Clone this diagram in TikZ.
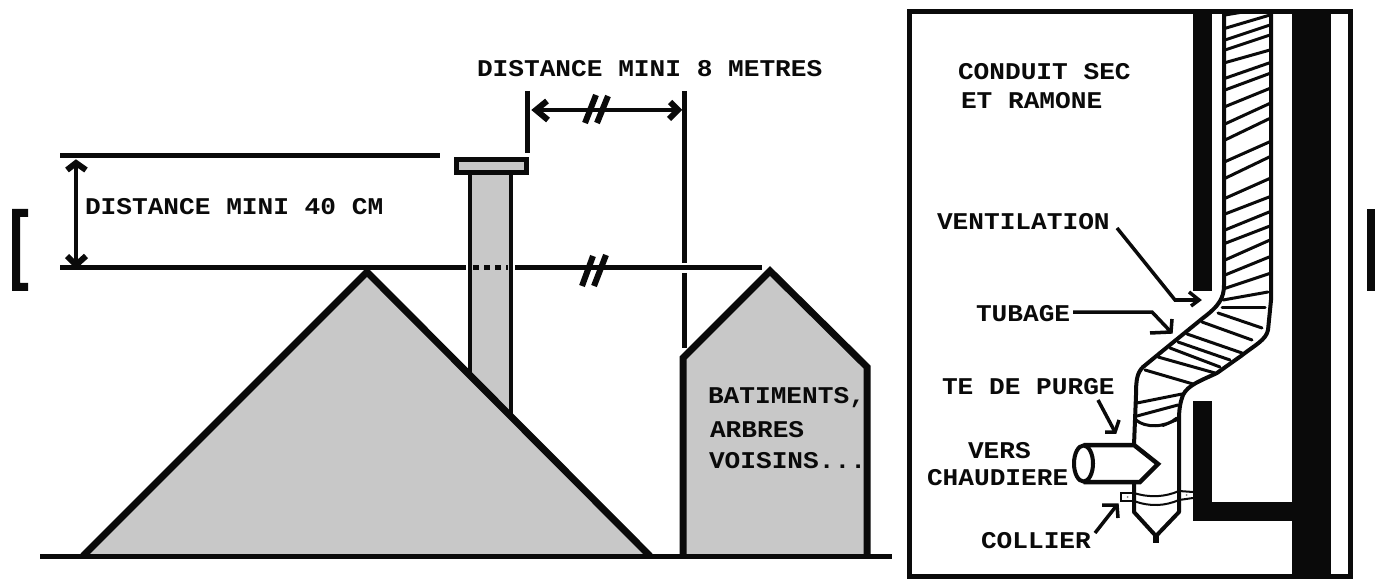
\documentclass[tikz,border=0pt]{standalone}
\usepackage{fontspec}
\usetikzlibrary{arrows.meta}
\newfontfamily\lblfont[FakeStretch=1.09]{Liberation Mono}
\definecolor{roofgrey}{HTML}{C8C8C8}
\definecolor{ink}{HTML}{0A0A0A}
\tikzset{
  lbl/.style={inner sep=0pt,outer sep=0pt,anchor=base west,text=ink,font=\lblfont\bfseries\fontsize{24}{24}\selectfont},
  thick line/.style={line width=5pt,draw=ink},
  roofline/.style={line width=7pt,draw=ink,fill=roofgrey,line join=miter},
  tubeline/.style={line width=4pt,draw=ink,line join=round,line cap=round},
  hatchline/.style={line width=3pt,draw=ink,line cap=round},
  leader/.style={line width=3.5pt,draw=ink,line join=miter},
  barb/.style={line width=6pt,draw=ink,line join=miter},
  clamp/.style={line width=2pt,draw=ink},
  wall/.style={fill=ink,draw=none}
}
\begin{document}
\begin{tikzpicture}[x=1pt,y=-1pt]
\useasboundingbox (0,0) rectangle (1381,585);
\fill[white] (0,0) rectangle (1381,585);
% page brackets
\fill[ink] (12,209) -- (28,209) -- (28,217) -- (20,217) -- (20,283) -- (28,283) -- (28,291) -- (12,291) -- cycle;
\fill[ink] (1367,209) rectangle (1375,291);
% stack
\fill[roofgrey] (470,174) rectangle (511,420);
\draw[line width=4.5pt,draw=ink] (470,376) -- (470,174);
\draw[line width=4.5pt,draw=ink] (511,174) -- (511,416);
\draw[line width=5pt,draw=ink,fill=roofgrey] (456.5,159.5) rectangle (526.5,172.5);
% house roof
\draw[roofline] (83,556) -- (367,272) -- (650,556);
% building
\draw[roofline] (683,557) -- (683,358) -- (770,271) -- (867,367) -- (867,557);
% ground
\draw[line width=5pt,draw=ink] (40,556.5) -- (892,556.5);
% reference lines
\draw[thick line] (60,156) -- (440,156);
\draw[thick line] (60,268) -- (466,268);
\draw[thick line,dash pattern=on 6pt off 5pt] (473,268) -- (508,268);
\draw[thick line] (515,268) -- (762,268);
\draw[line width=6pt,draw=ink] (582,286) -- (593,256);
\draw[line width=6pt,draw=ink] (594,286) -- (606,255);
% verticals
\draw[thick line] (527,91) -- (527,153);
\draw[thick line] (684,91) -- (684,263);
\draw[thick line] (684,273) -- (684,348);
% dimension arrows
\coordinate (hl) at (536,110);
\coordinate (hr) at (678,110);
\coordinate (vt) at (76,163);
\coordinate (vb) at (76,265);
\draw[line width=4pt,draw=ink] (hl) -- (hr);
\draw[line width=3.5pt,draw=ink] (vt) -- (vb);
\draw[barb] (547,101) -- (hl) -- (548,120);
\draw[barb] (670,102) -- (hr) -- (669,119);
\draw[barb] (67,170) -- (vt) -- (86,170);
\draw[barb] (67,256) -- (vb) -- (86,256);
\draw[line width=6pt,draw=ink] (585,123) -- (596,95);
\draw[line width=6pt,draw=ink] (597,123) -- (608,96);
% labels left
\node[lbl] (d8) at (477,77) {DISTANCE MINI 8 METRES};
\node[lbl] (d40) at (85,215) {DISTANCE MINI 40 CM};
\node[lbl] (b1) at (708,403) {BATIMENTS,};
\node[lbl] (b2) at (710,437) {ARBRES};
\node[lbl] (b3) at (709,468) {VOISINS...};
% frame
\draw[line width=5pt,draw=ink] (909.5,12) rectangle (1350.5,576);
% walls
\fill[wall] (1193,11) rectangle (1212,291);
\fill[wall] (1193,401) rectangle (1212,521);
\fill[wall] (1193,502) rectangle (1292,521);
\fill[wall] (1292,11) rectangle (1331,576);
% flue
\draw[tubeline] (1224,12) -- (1224,285)
  .. controls (1224,298) and (1219,306) .. (1203,318)
  -- (1160,353) -- (1143,367)
  .. controls (1137,373) and (1136,380) .. (1136,395)
  -- (1134,445);
\draw[tubeline] (1271,12) -- (1271,300) -- (1268,330)
  .. controls (1266,340) and (1255,345) .. (1241,356)
  -- (1217,373)
  .. controls (1200,381) and (1188,385) .. (1183,395)
  .. controls (1180,403) and (1179,410) .. (1179,420)
  -- (1179,512) -- (1157,535);
\draw[tubeline] (1134,482) -- (1134,512) -- (1155,535);
\draw[line width=6pt,draw=ink] (1156,533) -- (1156,543);
% hatches, straight part
\foreach \a/\b in {85/45,120/75,150/105,188/150,235/188,270/220,320/265,372/310,420/355,485/425,535/470,595/535,642/590,690/635,730/678,780/720,825/770,865/820}{
  \draw[hatchline] (1225,{\a/3}) -- (1270,{\b/3});
}
\draw[hatchline] (1225,15) -- (1243,12);
% hatches, bend
\draw[hatchline] (1223,300) -- (1268,292);
\draw[hatchline] (1222,307) -- (1265,307);
\draw[hatchline] (1218,313) -- (1262,328);
\draw[hatchline] (1202,322) -- (1252,340);
\draw[hatchline] (1187,334) -- (1242,353);
\draw[hatchline] (1178,342) -- (1230,360);
\draw[hatchline] (1170,348) -- (1220,367);
\draw[hatchline] (1158,357) -- (1215,373);
\draw[hatchline] (1145,370) -- (1193,384);
\draw[hatchline] (1137,403) -- (1182,394);
\draw[hatchline] (1137,416) -- (1178,405);
\draw[hatchline] (1136,420) .. controls (1145,428) and (1165,428) .. (1177,418);
\draw[hatchline,line width=2pt] (1163,426) .. controls (1168,424) and (1174,421) .. (1178,420);
% side outlet
\draw[line width=4.5pt,draw=ink,line join=miter] (1083.5,445) -- (1134,445) -- (1158,464) -- (1140,482) -- (1083.5,482);
\draw[line width=4pt,draw=ink,fill=white] (1083.5,463.5) ellipse [x radius=9.5,y radius=18];
% clamp
\draw[clamp] (1134,493) -- (1121,493) -- (1121,501) -- (1134,501);
\draw[clamp] (1134,493) .. controls (1150,498) and (1165,497) .. (1179,491);
\draw[clamp] (1134,501) .. controls (1150,507) and (1165,506) .. (1179,500);
\draw[clamp] (1179,491) -- (1193,492);
\draw[clamp] (1179,500) -- (1193,498);
\fill[gray] (1127.5,497) circle (1pt);
\fill[gray] (1186.5,495) circle (1pt);
% labels right
\node[lbl] (cs) at (958,80) {CONDUIT SEC};
\node[lbl] (er) at (961,109) {ET RAMONE};
\node[lbl] (ve) at (937,230) {VENTILATION};
\node[lbl] (tu) at (976,321) {TUBAGE};
\node[lbl] (te) at (942,394) {TE DE PURGE};
\node[lbl] (vs) at (968,458) {VERS};
\node[lbl] (ch) at (927,485) {CHAUDIERE};
\node[lbl] (co) at (981,548) {COLLIER};
% leaders
\coordinate (vstart) at (1117,228);
\coordinate (vk) at (1175,300);
\coordinate (vtip) at (1199,300);
\draw[leader] (vstart) -- (vk) -- (vtip);
\draw[leader] (1189,292) -- (vtip) -- (1191,306);
\coordinate (tstart) at (1073,312);
\coordinate (tk) at (1152,312);
\coordinate (ttip) at (1171,332);
\draw[leader] (tstart) -- (tk) -- (ttip);
\draw[leader] (1150,333) -- (ttip) -- (1172,319);
\coordinate (ptip) at (1115,432);
\draw[leader] (1098,400) -- (ptip);
\draw[leader] (1105,432) -- (ptip) -- (1119,420);
\coordinate (ctip) at (1117,505);
\draw[leader] (1095,533) -- (ctip);
\draw[leader] (1102,505) -- (ctip) -- (1118,518);
\end{tikzpicture}
\end{document}
